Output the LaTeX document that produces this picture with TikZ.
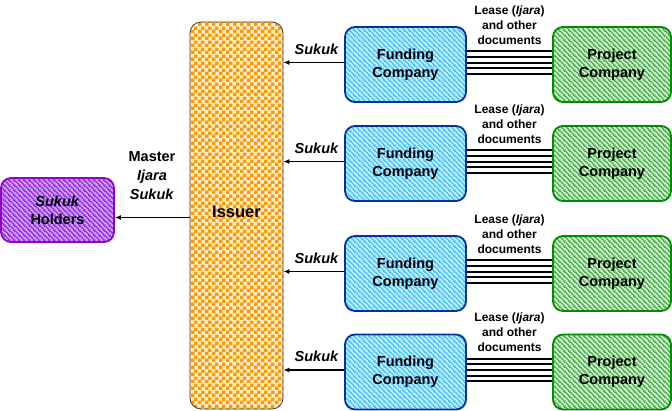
\documentclass[tikz,border=0pt]{standalone}
\usepackage{fontspec}
\setmainfont{Liberation Sans}
\usetikzlibrary{patterns.meta,calc,arrows.meta}
\definecolor{fcbg}{RGB}{205,240,255}
\definecolor{fcst}{RGB}{60,195,255}
\definecolor{fcbd}{RGB}{0,50,160}
\definecolor{pcbg}{RGB}{215,242,215}
\definecolor{pcst}{RGB}{70,175,70}
\definecolor{pcbd}{RGB}{0,140,0}
\definecolor{shbg}{RGB}{205,165,255}
\definecolor{shst}{RGB}{150,40,230}
\definecolor{shbd}{RGB}{150,0,200}
\definecolor{isor}{RGB}{255,153,0}
\definecolor{isbg}{RGB}{255,236,200}
\tikzdeclarepattern{
  name=diagstripes,
  type=uncolored,
  bounding box={(0pt,0pt) and (5pt,5pt)},
  tile size={(5pt,5pt)},
  code={
    \draw[line width=1.5pt] (-2.5pt,2.5pt) -- (2.5pt,-2.5pt) (0pt,5pt) -- (5pt,0pt) (2.5pt,7.5pt) -- (7.5pt,2.5pt);
  }
}
\tikzdeclarepattern{
  name=mychecker,
  type=uncolored,
  bounding box={(0pt,0pt) and (6.6pt,6.6pt)},
  tile size={(6.6pt,6.6pt)},
  code={
    \fill (0pt,0pt) rectangle (3.5pt,3.5pt) (3.3pt,3.3pt) rectangle (6.8pt,6.8pt);
  }
}
\tikzset{
  boxtxt/.style={font=\fontsize{14.5}{18}\selectfont\bfseries, align=center, rounded corners=10pt, inner sep=0pt},
  fcbox/.style={boxtxt, draw=fcbd, line width=1.8pt, preaction={fill=fcbg}, pattern=diagstripes, pattern color=fcst, minimum width=121pt, minimum height=75pt},
  pcbox/.style={boxtxt, draw=pcbd, line width=1.8pt, preaction={fill=pcbg}, pattern=diagstripes, pattern color=pcst, minimum width=118pt, minimum height=75pt},
  shbox/.style={boxtxt, draw=shbd, line width=1.8pt, preaction={fill=shbg}, pattern=diagstripes, pattern color=shst, minimum width=113pt, minimum height=64pt},
  isbox/.style={font=\fontsize{16.5}{20}\selectfont\bfseries, draw=black!75, line width=0.8pt, rounded corners=11pt, preaction={fill=isbg}, pattern=mychecker, pattern color=isor, minimum width=93pt, minimum height=387pt, inner sep=0pt},
  arr/.style={-{Latex[length=6pt,width=5pt]}, line width=1.8pt},
  lbl/.style={font=\fontsize{14.5}{19}\selectfont\bfseries, align=center},
  lease/.style={font=\fontsize{12}{15}\selectfont\bfseries, align=center},
  doc/.style={line width=2pt}
}
\begin{document}
\begin{tikzpicture}[x=1pt,y=-1pt]
\useasboundingbox (0,0) rectangle (672,410);
\node[shbox] (sh) at (57.5,210) {\textit{Sukuk}\\Holders};
\node[isbox] (iss) at (236.5,215.5) {};
\node[font=\fontsize{16.5}{20}\selectfont\bfseries] (isstxt) at (236.5,212) {Issuer};
\draw[arr] ([yshift=-2pt]iss.west) -- ([yshift=-2pt]iss.west -| sh.east);
\node[lbl] (master) at (152,176) {Master\\\textit{Ijara}\\\textit{Sukuk}};
\foreach \i/\y in {1/64.5,2/163.5,3/273.5,4/372} {
  \node[fcbox] (fc\i) at (405.5,\y) {Funding\\Company};
  \node[pcbox] (pc\i) at (612,\y) {Project\\Company};
  \draw[arr] ([yshift=2pt]fc\i.west) -- ([yshift=2pt]fc\i.west -| iss.east)
    node[midway, above=4pt, lbl, xshift=3pt] (sk\i) {\textit{Sukuk}};
  \foreach \d in {-9.2,-3.6,2,7.6,13.2} {
    \draw[doc] ([yshift=\d pt]fc\i.east) -- ([yshift=\d pt]pc\i.west);
  }
  \node[lease] (ls\i) at ($(fc\i.east)!0.5!(pc\i.west)+(0,-39.5)$) {Lease (\textit{Ijara})\\and other\\documents};
}
\end{tikzpicture}
\end{document}
